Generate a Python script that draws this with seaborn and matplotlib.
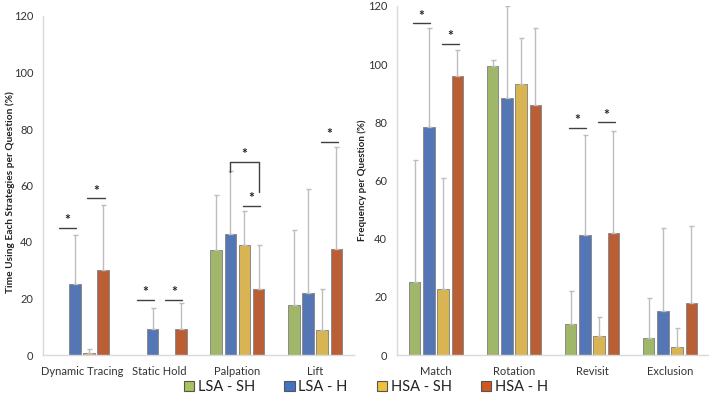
import matplotlib
matplotlib.use("Agg")
import matplotlib.pyplot as plt
import seaborn as sns
import pandas as pd
import numpy as np
from matplotlib.patches import Patch

sns.set_theme(style="white")
plt.rcParams['font.family'] = ['Lato', 'DejaVu Sans']

groups = ["LSA - SH", "LSA - H", "HSA - SH", "HSA - H"]
colors = ["#A6C35C", "#4472C4", "#EEC03C", "#D0571F"]

left_cats = ["Dynamic Tracing", "Static Hold", "Palpation", "Lift"]
left_lsa_sh = [0, 0, 37.0, 17.7]
left_lsa_h = [25.3, 9.3, 43.0, 22.0]
left_hsa_sh = [0.7, 0, 38.8, 8.7]
left_hsa_h = [30.0, 9.3, 23.2, 37.5]
left_err_top_lsa_sh = [0, 0, 56.8, 44.3]
left_err_top_lsa_h = [42.5, 16.5, 65.0, 58.8]
left_err_top_hsa_sh = [2.0, 0, 51.0, 23.2]
left_err_top_hsa_h = [53.0, 18.5, 39.0, 73.7]

right_cats = ["Match", "Rotation", "Revisit", "Exclusion"]
right_lsa_sh = [25.2, 99.3, 10.6, 6.0]
right_lsa_h = [78.5, 88.4, 41.2, 15.3]
right_hsa_sh = [22.6, 93.2, 6.6, 2.8]
right_hsa_h = [96.0, 86.0, 42.0, 17.8]
right_err_top_lsa_sh = [67.0, 101.3, 22.0, 19.5]
right_err_top_lsa_h = [112.5, 120.0, 75.5, 43.5]
right_err_top_hsa_sh = [60.7, 109.0, 13.0, 9.4]
right_err_top_hsa_h = [105.0, 112.5, 77.0, 44.5]

# significance: (category index, bar i, bar j, height)
left_sig = [(0, 0, 1, 45.0), (0, 2, 3, 55.5), (1, 0, 1, 19.5), (1, 2, 3, 19.5),
            (2, 2, 3, 52.7), (3, 2, 3, 75.5)]
left_bracket = [(2, 1, 3, 68.3, 64.8, 57.7)]
right_sig = [(0, 0, 1, 114.0), (0, 2, 3, 107.0), (2, 0, 1, 78.0), (2, 2, 3, 80.0)]


def make_df(cats, vals):
    rows = []
    for g, v in zip(groups, vals):
        for c, x in zip(cats, v):
            rows.append({"cat": c, "group": g, "val": x})
    return pd.DataFrame(rows)


fig = plt.figure(figsize=(7.09, 4.05), dpi=100)
axL = fig.add_axes([43/709, 50/405, 311/709, 339/405])
axR = fig.add_axes([397/709, 50/405, 312/709, 349/405])


def draw(ax, cats, vals, tops, sigs, brackets, ylabel, ylab_size):
    df = make_df(cats, vals)
    sns.barplot(data=df, x="cat", y="val", hue="group", hue_order=groups,
                palette=colors, width=0.73, gap=0.19, errorbar=None,
                edgecolor="#8A8A8A", linewidth=0.7, legend=False, ax=ax)
    centers = np.zeros((len(groups), len(cats)))
    patches = [p for p in ax.patches]
    for gi in range(len(groups)):
        for ci in range(len(cats)):
            p = patches[gi * len(cats) + ci]
            centers[gi, ci] = p.get_x() + p.get_width() / 2
    for gi in range(len(groups)):
        for ci in range(len(cats)):
            v = vals[gi][ci]
            t = tops[gi][ci]
            if t > v:
                ax.errorbar(centers[gi, ci], v, yerr=[[0], [t - v]], fmt="none",
                            ecolor="#BDBDBD", elinewidth=1.0, capsize=1.8,
                            capthick=1.0, zorder=1)
    for ci, i, j, h in sigs:
        x0, x1 = centers[i, ci], centers[j, ci]
        ax.plot([x0 - 0.02, x1 + 0.02], [h, h], color="#404040", lw=1.0)
        ax.text((x0 + x1) / 2, h + 0.6, "*", ha="center", va="bottom",
                fontsize=10, fontweight="bold", color="#222222")
    for ci, i, j, h, hl, hr in brackets:
        x0, x1 = centers[i, ci], centers[j, ci]
        ax.plot([x0, x0, x1, x1], [hl, h, h, hr], color="#404040", lw=1.0)
        ax.text((x0 + x1) / 2, h + 0.6, "*", ha="center", va="bottom",
                fontsize=10, fontweight="bold", color="#222222")
    ax.set_ylim(0, 120)
    ax.set_yticks(range(0, 121, 20))
    ax.set_xlim(-0.5, len(cats) - 0.5)
    ax.set_xlabel("")
    ax.set_ylabel(ylabel, fontsize=ylab_size, fontweight="bold", color="#222222")
    ax.tick_params(axis="both", length=0, labelsize=8, colors="#333333")
    ax.tick_params(axis="x", pad=8)
    ax.tick_params(axis="y", pad=7)
    for s in ["top", "right"]:
        ax.spines[s].set_visible(False)
    for s in ["left", "bottom"]:
        ax.spines[s].set_color("#D9D9D9")
        ax.spines[s].set_linewidth(1.0)


draw(axL, left_cats,
     [left_lsa_sh, left_lsa_h, left_hsa_sh, left_hsa_h],
     [left_err_top_lsa_sh, left_err_top_lsa_h, left_err_top_hsa_sh, left_err_top_hsa_h],
     left_sig, left_bracket, "Time Using Each Strategies per Question (%)", 7.3)
axL.yaxis.set_label_coords(-28/311, 0.48)
draw(axR, right_cats,
     [right_lsa_sh, right_lsa_h, right_hsa_sh, right_hsa_h],
     [right_err_top_lsa_sh, right_err_top_lsa_h, right_err_top_hsa_sh, right_err_top_hsa_h],
     right_sig, [], "Frequency per Question (%)", 7.0)
axR.yaxis.set_label_coords(-30/312, 0.5)

handles = [Patch(facecolor=c, edgecolor="#555555", linewidth=0.8) for c in colors]
fig.legend(handles, groups, loc="center", bbox_to_anchor=(366/709, 18/405),
           ncol=4, frameon=False, fontsize=10.5, handlelength=0.7, handleheight=0.7,
           handletextpad=0.25, columnspacing=2.0, labelcolor="#222222")

fig.savefig("out.png", dpi=100)
